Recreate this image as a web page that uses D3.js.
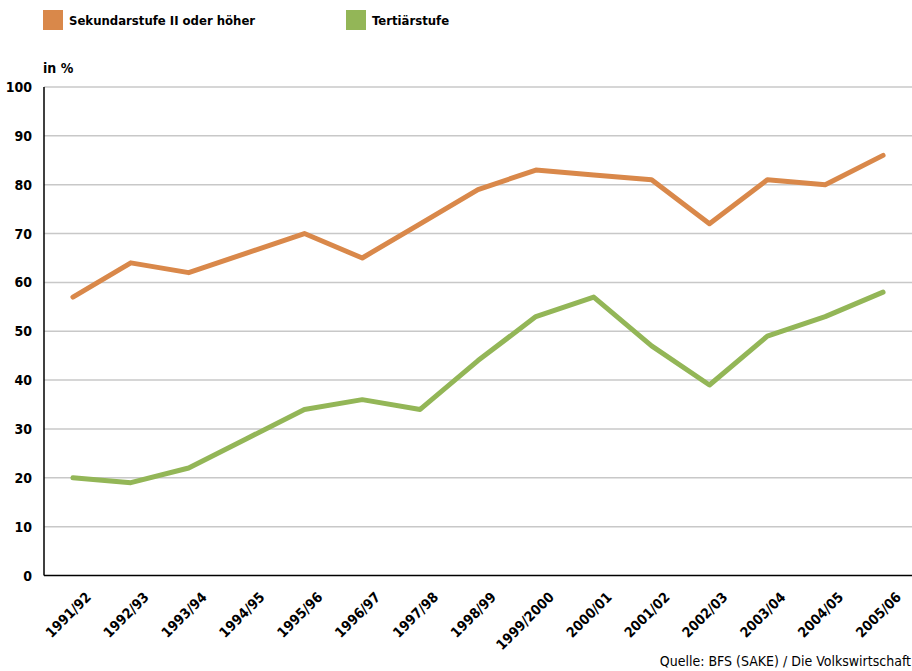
<!DOCTYPE html>
<html>
<head>
<meta charset="utf-8">
<script src="https://cdn.jsdelivr.net/npm/d3@7"></script>
<style>
  body { margin: 0; background: #fff; }
  text { font-family: "DejaVu Sans Condensed", "DejaVu Sans", sans-serif; }
</style>
</head>
<body>
<main></main>
<script>
const WIDTH = 912;
const HEIGHT = 671;

// data
const years = ["1991/92", "1992/93", "1993/94", "1994/95", "1995/96", "1996/97", "1997/98",
               "1998/99", "1999/2000", "2000/01", "2001/02", "2002/03", "2003/04", "2004/05", "2005/06"];
const sekundar = [57, 64, 62, 66, 70, 65, 72, 79, 83, 82, 81, 72, 81, 80, 86];
const tertiaer = [20, 19, 22, 28, 34, 36, 34, 44, 53, 57, 47, 39, 49, 53, 58];
const yTicks = [0, 10, 20, 30, 40, 50, 60, 70, 80, 90, 100];
const seriesNames = ["Sekundarstufe II oder höher", "Tertiärstufe"];
const seriesColors = ["#d9884a", "#93b657"];

const svg = d3.select("main").append("svg")
              .attr("width", WIDTH)
              .attr("height", HEIGHT);

const x = d3.scaleBand().domain(years).range([44, 912]);
const y = d3.scaleLinear().domain([0, 100]).range([575.5, 87]);

// Gridlines
svg.append("g")
   .selectAll("line")
   .data(yTicks.filter(d => d > 0))
   .enter()
   .append("line")
   .attr("x1", 44)
   .attr("x2", WIDTH)
   .attr("y1", d => y(d))
   .attr("y2", d => y(d))
   .style("stroke", "#c8c8c8")
   .style("stroke-width", 1.5);

// Y tick labels
svg.append("g")
   .selectAll("text")
   .data(yTicks)
   .enter()
   .append("text")
   .attr("x", 32)
   .attr("y", d => y(d) + 5)
   .attr("text-anchor", "end")
   .attr("font-size", 14)
   .attr("font-weight", "bold")
   .text(d => d);

// Axes lines
svg.append("line")
   .attr("x1", 44).attr("x2", 44)
   .attr("y1", y(100)).attr("y2", y(0))
   .style("stroke", "#000").style("stroke-width", 1.5);
svg.append("line")
   .attr("x1", 44).attr("x2", WIDTH)
   .attr("y1", y(0)).attr("y2", y(0))
   .style("stroke", "#000").style("stroke-width", 1.5);

// X labels, rotated
svg.append("g")
   .selectAll("text")
   .data(years)
   .enter()
   .append("text")
   .attr("transform", d => "translate(" + (x(d) + x.bandwidth() / 2 + 19) + ",598) rotate(-45)")
   .attr("text-anchor", "end")
   .attr("font-size", 14)
   .attr("font-weight", "bold")
   .text(d => d);

// Lines
const line = d3.line()
               .x((d, i) => x(years[i]) + x.bandwidth() / 2)
               .y(d => y(d));

[sekundar, tertiaer].forEach(function (vals, i) {
    svg.append("path")
       .datum(vals)
       .attr("d", line)
       .style("fill", "none")
       .style("stroke", seriesColors[i])
       .style("stroke-width", 5)
       .style("stroke-linejoin", "round")
       .style("stroke-linecap", "round");
});

// Legend
const legendX = [43, 346];
seriesNames.forEach(function (name, i) {
    svg.append("rect")
       .attr("x", legendX[i]).attr("y", 10)
       .attr("width", 20).attr("height", 20)
       .style("fill", seriesColors[i]);
    svg.append("text")
       .attr("x", legendX[i] + 26).attr("y", 25)
       .attr("font-size", 13)
       .attr("font-weight", "bold")
       .text(name);
});

svg.append("text")
   .attr("x", 43).attr("y", 73)
   .attr("font-size", 14)
   .attr("font-weight", "bold")
   .text("in %");

svg.append("text")
   .attr("x", 911).attr("y", 666)
   .attr("text-anchor", "end")
   .attr("font-size", 14)
   .text("Quelle: BFS (SAKE) / Die Volkswirtschaft");
</script>
</body>
</html>
